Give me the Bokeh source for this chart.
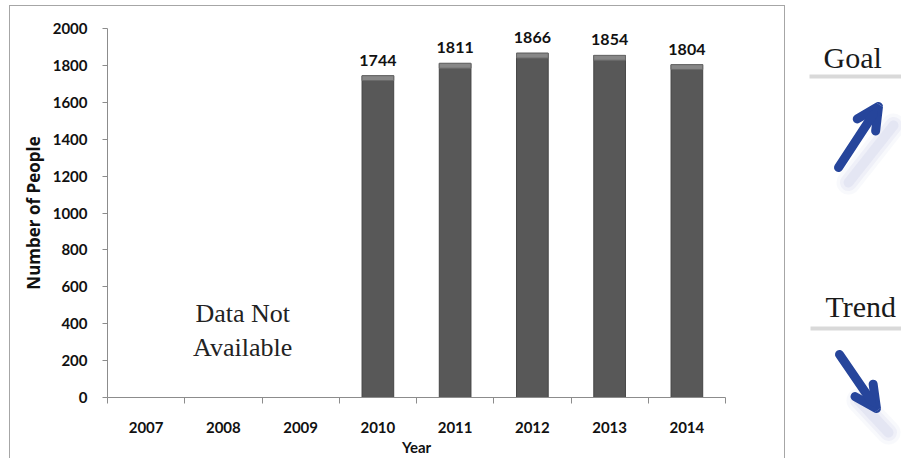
from bokeh.plotting import figure
from bokeh.models import Range1d, FixedTicker, ColumnDataSource, Arrow, OpenHead
from bokeh.layouts import row, column
from bokeh.embed import file_html
from bokeh.resources import INLINE
from bokeh.core.properties import value

# ---- data ----
years = ["2007", "2008", "2009", "2010", "2011", "2012", "2013", "2014"]
people = [None, None, None, 1744, 1811, 1866, 1854, 1804]
y_ticks = [0, 200, 400, 600, 800, 1000, 1200, 1400, 1600, 1800, 2000]
na_text = "Data Not\nAvailable"
goal_text = "Goal"
trend_text = "Trend"

TICK_FONT = "Lato"
SERIF = "Liberation Serif"
BLUE = "#26459b"
AXIS_GRAY = "#8c8c8c"

idx = [i for i, v in enumerate(people) if v is not None]
src = ColumnDataSource(dict(
    x=idx,
    top=[people[i] for i in idx],
    bevel=[people[i] - 26 for i in idx],
    label=[str(people[i]) for i in idx],
))

p = figure(width=776, height=453, output_backend="svg", toolbar_location=None,
           x_range=Range1d(-0.5, len(years) - 0.5), y_range=Range1d(0, 2000),
           min_border_left=97, min_border_right=61, min_border_top=22, min_border_bottom=62)
p.styles = {"border-left": "1px solid #a6a6a6", "border-top": "1px solid #a6a6a6",
            "border-right": "1px solid #a6a6a6", "margin-left": "9px", "margin-top": "5px"}
p.outline_line_color = None
p.xgrid.grid_line_color = None
p.ygrid.grid_line_color = None

# bars
p.vbar(x="x", top="top", bottom=0, width=0.41, source=src,
       fill_color="#585858", line_color="#454545", line_width=1)
p.vbar(x="x", top="top", bottom="bevel", width=0.41, source=src,
       fill_color="#878787", line_color="#6a6a6a", line_width=1)
p.text(x="x", y="top", text="label", source=src, text_align="center",
       text_baseline="bottom", y_offset=-10, text_font=value(TICK_FONT),
       text_font_style="bold", text_font_size="16px", text_color="#111111")

# N/A note
p.text(x=[1.25], y=[364], text=[na_text], text_align="center", text_baseline="middle",
       text_font=value(SERIF), text_font_size="26px", text_color="#222222",
       text_line_height=1.18)

# x axis
xa = p.xaxis[0]
xa.ticker = FixedTicker(ticks=list(range(len(years))),
                        minor_ticks=[i - 0.5 for i in range(len(years) + 1)])
xa.major_label_overrides = {i: y for i, y in enumerate(years)}
xa.major_tick_out = 0
xa.major_tick_in = 0
xa.minor_tick_out = 6
xa.minor_tick_in = 0
xa.minor_tick_line_color = AXIS_GRAY
xa.axis_line_color = AXIS_GRAY
xa.major_label_standoff = 18
xa.major_label_text_font = TICK_FONT
xa.major_label_text_font_style = "bold"
xa.major_label_text_font_size = "15px"
xa.major_label_text_color = "#111111"
xa.axis_label = "Year"
xa.axis_label_standoff = 2
xa.axis_label_text_font = TICK_FONT
xa.axis_label_text_font_style = "bold"
xa.axis_label_text_font_size = "15px"
xa.axis_label_text_color = "#111111"

# y axis
ya = p.yaxis[0]
ya.ticker = FixedTicker(ticks=y_ticks, minor_ticks=[])
ya.major_tick_out = 5
ya.major_tick_in = 0
ya.major_tick_line_color = AXIS_GRAY
ya.axis_line_color = AXIS_GRAY
ya.major_label_standoff = 15
ya.major_label_text_font = TICK_FONT
ya.major_label_text_font_style = "bold"
ya.major_label_text_font_size = "15px"
ya.major_label_text_color = "#111111"
ya.axis_label = "Number of People"
ya.axis_label_standoff = 5
ya.axis_label_text_font = "Open Sans"
ya.axis_label_text_font_style = "bold"
ya.axis_label_text_font_size = "17px"
ya.axis_label_text_color = "#111111"

# ---- right side panel (page-pixel coordinates) ----
r = figure(width=116, height=458, output_backend="svg", toolbar_location=None,
           x_range=Range1d(785, 901), y_range=Range1d(458, 0),
           x_axis_type=None, y_axis_type=None, min_border=0)
r.grid.visible = False
r.outline_line_color = None

r.text(x=[823], y=[57], text=[goal_text], text_align="left", text_baseline="middle",
       text_font=value(SERIF), text_font_size="30px", text_color="#1a1a1a")
r.segment(x0=[809], y0=[76], x1=[901], y1=[76], line_color="#d9d9d9", line_width=4)
r.text(x=[825], y=[306], text=[trend_text], text_align="left", text_baseline="middle",
       text_font=value(SERIF), text_font_size="30px", text_color="#1a1a1a")
r.segment(x0=[810], y0=[328], x1=[901], y1=[328], line_color="#d9d9d9", line_width=4)

# soft shadows
for w, a in [(24, 0.05), (17, 0.07), (10, 0.09)]:
    r.segment(x0=[848], y0=[182], x1=[893], y1=[125], line_color="#7f86cc",
              line_width=w, line_alpha=a, line_cap="round")
    r.segment(x0=[858], y0=[400], x1=[888], y1=[432], line_color="#7f86cc",
              line_width=w, line_alpha=a, line_cap="round")

# arrows
r.add_layout(Arrow(x_start=838, y_start=167, x_end=878, y_end=106,
                   line_color=BLUE, line_width=9, line_cap="round",
                   end=OpenHead(size=22, line_color=BLUE, line_width=9, line_cap="round")))
r.add_layout(Arrow(x_start=839, y_start=354, x_end=876, y_end=408,
                   line_color=BLUE, line_width=9, line_cap="round",
                   end=OpenHead(size=22, line_color=BLUE, line_width=9, line_cap="round")))

layout = row(p, column(r), spacing=0)
open("out.html", "w").write(file_html(layout, INLINE))
